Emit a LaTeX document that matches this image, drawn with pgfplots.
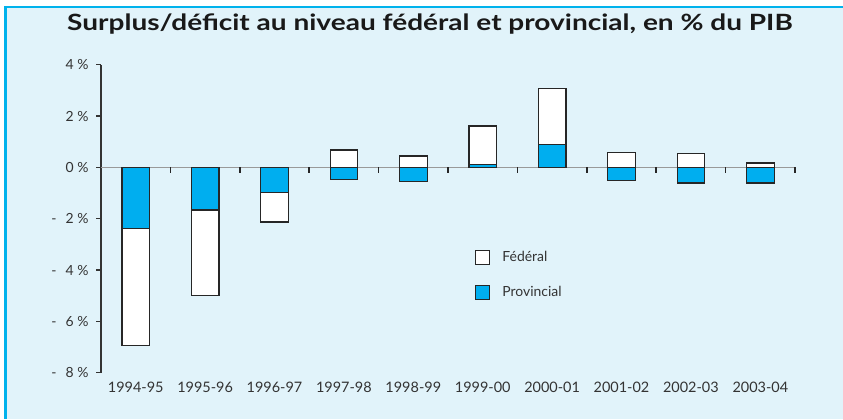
\documentclass[border=0pt]{standalone}
\usepackage{pgfplots}
\pgfplotsset{compat=1.18}
\usepackage{fontspec}
\setmainfont{Lato}
\definecolor{bgblue}{HTML}{E1F3FA}
\definecolor{frameblue}{HTML}{00B2EC}
\definecolor{barblue}{HTML}{00AEEF}
\definecolor{txt}{HTML}{333333}
\newcommand{\neglab}[1]{-\hspace{9bp}#1~\%}
\begin{document}
\begin{tikzpicture}[x=1bp,y=1bp]
\fill[white] (0,0) rectangle (843,419);
\fill[bgblue] (4,0) rectangle (843,413);
\fill[frameblue] (4,0) rectangle (6.5,413);
\fill[frameblue] (4,410.5) rectangle (843,413);
\node[text=black!90, anchor=base, inner sep=0pt] at (430,388) {\scalebox{1.25}[1.0]{\fontsize{22.5}{24}\selectfont\bfseries Surplus/déficit au niveau fédéral et provincial, en \% du PIB}};
\begin{axis}[
  at={(101bp,46.3bp)}, anchor=south west,
  scale only axis, width=694bp, height=308bp,
  xmin=-0.5, xmax=9.5, ymin=-8, ymax=4,
  clip=false,
  axis x line*=bottom, axis y line*=left,
  axis line style={-},
  x axis line style={draw=none},
  y axis line style={draw=txt, line width=1.3bp},
  xtick={0,...,9},
  xticklabels={1994-95,1995-96,1996-97,1997-98,1998-99,1999-00,2000-01,2001-02,2002-03,2003-04},
  xtick style={draw=none},
  xticklabel style={font=\fontsize{14.5}{16}\selectfont, text=txt, yshift=-1bp},
  ytick={-8,-6,-4,-2,0,2,4},
  yticklabels={\neglab{8},\neglab{6},\neglab{4},\neglab{2},0~\%,2~\%,4~\%},
  yticklabel style={font=\fontsize{14}{16}\selectfont, text=txt, xshift=-4bp},
  ytick style={draw=txt, line width=1.3bp},
  tick align=outside, major tick length=5bp,
  extra y ticks={0}, extra y tick labels={},
  extra y tick style={grid=major, major grid style={draw=gray!80, line width=1.3bp}, major tick length=0pt},
  ybar, bar width=27.6bp, bar shift=0pt,
  legend style={at={(rel axis cs:0.539,0.40)}, anchor=north west, draw=none, fill=none,
    font=\fontsize{14}{16}\selectfont, text=txt, row sep=19bp, inner sep=0pt,
    /tikz/every odd column/.append style={column sep=10bp}},
  legend cell align=left,
  legend image code/.code={\draw[#1, line width=1.1bp] (0bp,-7bp) rectangle (14bp,7bp);},
]
% Fédéral: outer extent of each bar (provincial + fédéral when same sign)
\addplot[fill=white, draw=black!85, line width=1.2bp] coordinates {
 (0,-6.94) (1,-5.00) (2,-2.13) (3,0.68) (4,0.44) (5,1.61) (6,3.08) (7,0.58) (8,0.55) (9,0.17)};
\addlegendentry{Fédéral}
\addplot[fill=barblue, draw=black!85, line width=1.2bp] coordinates {
 (0,-2.39) (1,-1.66) (2,-0.97) (3,-0.46) (4,-0.54) (5,0.10) (6,0.90) (7,-0.50) (8,-0.61) (9,-0.61)};
\addlegendentry{Provincial}
\pgfplotsinvokeforeach{0.5,1.5,2.5,3.5,4.5,5.5,6.5,7.5,8.5,9.5}{
  \draw[black!85, line width=1.6bp] (axis cs:#1,0) -- ([yshift=-6bp]axis cs:#1,0);
}
\end{axis}
\end{tikzpicture}
\end{document}
